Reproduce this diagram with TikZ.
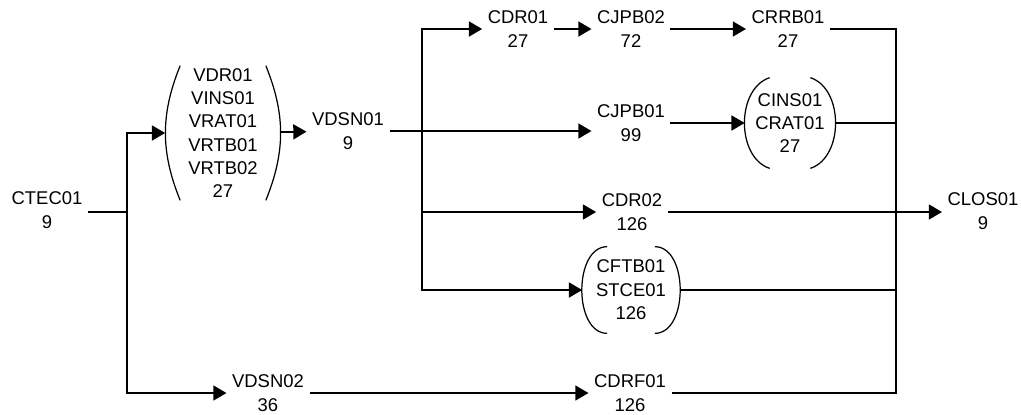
\documentclass[tikz,border=0pt]{standalone}
\usepackage{fontspec}
\setmainfont{Liberation Sans}
\usetikzlibrary{arrows.meta}

\newcommand{\parens}[3]{%
  \draw[paren] ([xshift=#2]#1.north west) to[bend right=#3] ([xshift=#2]#1.south west);
  \draw[paren] ([xshift=-#2]#1.north east) to[bend left=#3] ([xshift=-#2]#1.south east);}

\begin{document}
\begin{tikzpicture}[x=0.02cm,y=-0.02cm,
    job/.style={align=center,inner sep=3pt,font=\fontsize{10.5}{13.3}\selectfont},
    grp/.style={job,inner sep=0pt},
    paren/.style={line width=0.7pt},
    arr/.style={line width=1pt,-{Triangle[length=7.5pt,width=8.5pt]}},
    ln/.style={line width=1pt}]
    \useasboundingbox (0,0) rectangle (1021,414);
    \node[job] (ctec01) at (47,210) {CTEC01\\9};
    \node[grp,minimum width=2.3cm,minimum height=2.68cm] (vdr) at (223,133)
      {VDR01\\VINS01\\VRAT01\\VRTB01\\VRTB02\\27};
    \node[job] (vdsn01) at (348,131) {VDSN01\\9};
    \node[job] (vdsn02) at (268,393) {VDSN02\\36};
    \node[job] (cdr01) at (518,29) {CDR01\\27};
    \node[job] (cjpb02) at (631,29) {CJPB02\\72};
    \node[job] (crrb01) at (788,29) {CRRB01\\27};
    \node[job] (cjpb01) at (631,123) {CJPB01\\99};
    \node[grp,minimum width=1.8cm,minimum height=1.8cm] (cins) at (790,123)
      {CINS01\\CRAT01\\27};
    \node[job] (cdr02) at (632,212) {CDR02\\126};
    \node[grp,minimum width=1.94cm,minimum height=1.72cm] (cftb) at (631,290)
      {CFTB01\\STCE01\\126};
    \node[job] (cdrf01) at (630,393) {CDRF01\\126};
    \node[job] (clos01) at (983,211) {CLOS01\\9};
    \parens{vdr}{0.3cm}{22}
    \parens{cins}{0.5cm}{72}
    \parens{cftb}{0.5cm}{90}
    \coordinate (fork1) at (127,212);
    \coordinate (fork2) at (422,131);
    \coordinate (join) at (896,212);
    \draw[ln] (ctec01.east |- fork1) -- (fork1);
    \draw[arr] (fork1) |- (vdr.west);
    \draw[arr] (fork1) |- (vdsn02.west);
    \draw[arr] (vdr) -- (vdsn01);
    \draw[ln] (vdsn01) -- (fork2);
    \draw[arr] (fork2) |- (cdr01.west);
    \draw[arr] (fork2) -- (fork2 -| cjpb01.west);
    \draw[arr] (fork2) |- (cdr02.west);
    \draw[arr] (fork2) |- (cftb.west);
    \draw[arr] (cdr01) -- (cjpb02);
    \draw[arr] (cjpb02) -- (crrb01);
    \draw[arr] (cjpb01) -- (cins);
    \draw[arr] (vdsn02) -- (cdrf01);
    \draw[ln] (crrb01) -| (join);
    \draw[ln] (cins.east) -| (join);
    \draw[ln] (cftb.east) -| (join);
    \draw[ln] (cdrf01) -| (join);
    \draw[arr] (cdr02.east |- join) -- (clos01.west |- join);
\end{tikzpicture}
\end{document}
